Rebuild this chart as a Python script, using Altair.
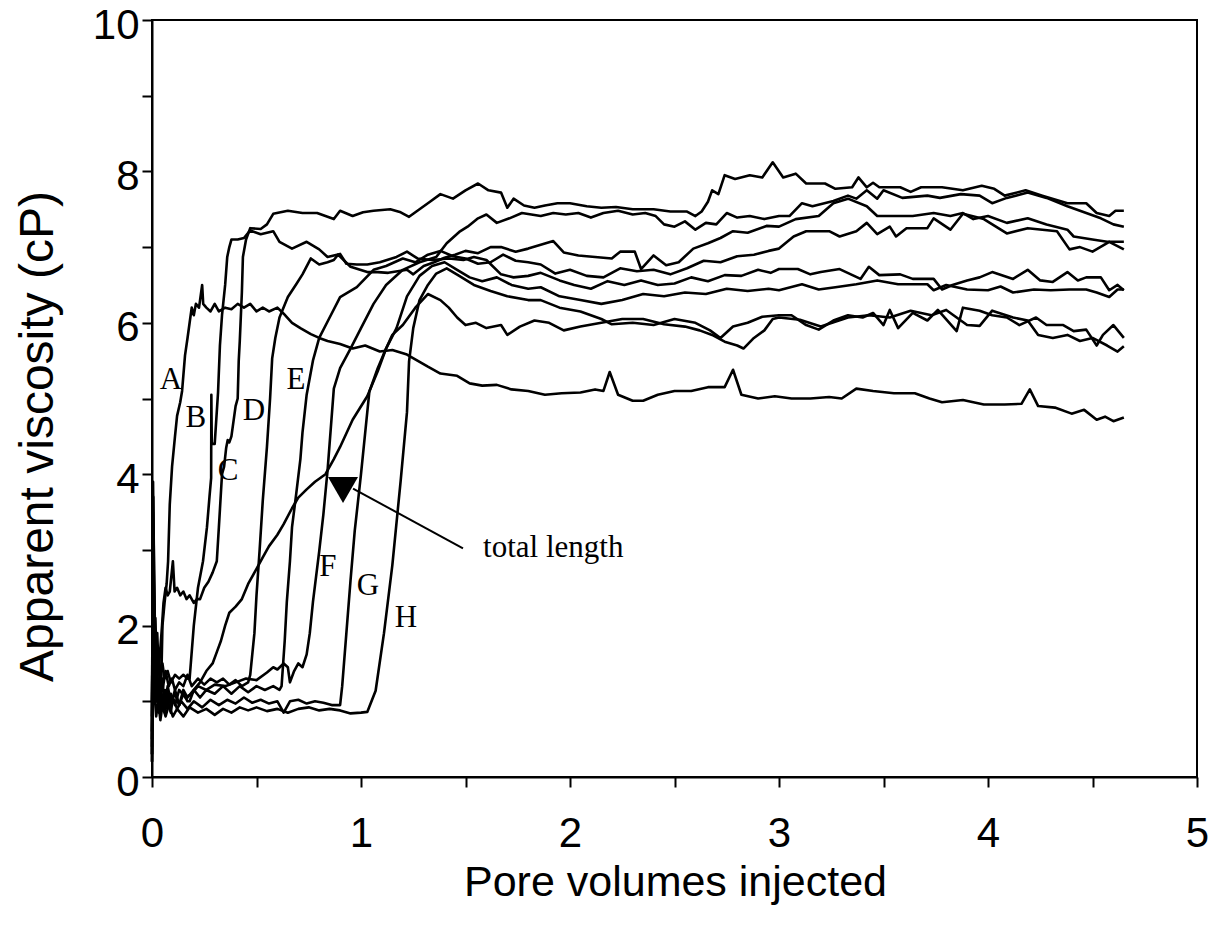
import altair as alt
import pandas as pd

# ---- curves: (pore volumes injected, apparent viscosity cP) ----
A = [(0,0.3),(0.004,3.3),(0.01,2.0),(0.016,1.3),(0.022,1.0),(0.03,1.25),(0.038,0.95),(0.045,1.35),(0.05,2.0),(0.06,2.3),(0.07,2.55),(0.077,2.85),(0.085,3.6),(0.096,4.1),(0.11,4.5),(0.12,4.77),(0.135,4.95),(0.144,5.1),(0.158,5.57),(0.17,5.8),(0.18,6.0),(0.19,6.2),(0.2,6.1),(0.21,6.25),(0.225,6.2),(0.24,6.5),(0.245,6.25),(0.26,6.2),(0.28,6.15),(0.3,6.25),(0.32,6.15),(0.35,6.2),(0.38,6.18),(0.41,6.25),(0.44,6.2),(0.47,6.25),(0.5,6.15),(0.53,6.2),(0.56,6.15),(0.6,6.2),(0.63,6.12),(0.67,6.0),(0.71,5.93),(0.76,5.85),(0.8,5.8),(0.84,5.76),(0.9,5.72),(0.96,5.66),(1.02,5.7),(1.09,5.62),(1.15,5.64),(1.22,5.58),(1.27,5.5),(1.32,5.42),(1.38,5.33),(1.46,5.3),(1.52,5.2),(1.58,5.17),(1.65,5.18),(1.72,5.12),(1.8,5.1),(1.88,5.05),(1.96,5.07),(2.05,5.08),(2.12,5.12),(2.16,5.1),(2.19,5.35),(2.23,5.05),(2.3,4.97),(2.35,4.97),(2.42,5.05),(2.5,5.1),(2.58,5.1),(2.66,5.15),(2.74,5.15),(2.78,5.38),(2.82,5.05),(2.9,5.0),(2.98,5.03),(3.06,5.0),(3.15,5.0),(3.24,5.02),(3.3,5.0),(3.37,5.13),(3.45,5.1),(3.55,5.07),(3.65,5.07),(3.72,5.0),(3.78,4.95),(3.88,4.98),(3.98,4.92),(4.08,4.92),(4.16,4.93),(4.2,5.12),(4.24,4.9),(4.32,4.88),(4.4,4.8),(4.46,4.85),(4.52,4.72),(4.56,4.76),(4.6,4.7),(4.65,4.75)]

B = [(0,0.8),(0.005,2.9),(0.01,1.8),(0.016,2.1),(0.022,1.5),(0.03,1.7),(0.04,1.35),(0.05,1.5),(0.06,1.3),(0.075,1.4),(0.09,1.25),(0.11,1.35),(0.13,1.3),(0.15,1.35),(0.17,1.3),(0.18,1.3),(0.2,2.0),(0.22,2.5),(0.244,2.85),(0.263,3.3),(0.275,3.7),(0.283,3.95),(0.284,5.05),(0.286,4.4),(0.3,4.4),(0.316,5.08),(0.325,5.7),(0.335,6.1),(0.35,6.5),(0.36,6.87),(0.37,7.0),(0.38,7.1),(0.41,7.1),(0.44,7.12),(0.47,7.22),(0.52,7.17),(0.58,7.21),(0.61,7.07),(0.67,6.98),(0.74,7.07),(0.8,6.97),(0.84,6.87),(0.9,6.91),(0.93,6.78),(0.98,6.77),(1.03,6.77),(1.09,6.8),(1.17,6.87),(1.22,6.94),(1.27,6.85),(1.34,6.83),(1.42,6.85),(1.49,6.83),(1.54,6.87),(1.6,6.83),(1.67,6.64),(1.73,6.6),(1.8,6.62),(1.86,6.66),(1.95,6.56),(2.02,6.5),(2.1,6.45),(2.18,6.55),(2.26,6.5),(2.34,6.56),(2.42,6.5),(2.5,6.52),(2.58,6.6),(2.66,6.55),(2.74,6.63),(2.82,6.62),(2.9,6.7),(2.96,6.66),(3.0,6.71),(3.09,6.71),(3.15,6.64),(3.2,6.67),(3.29,6.71),(3.39,6.58),(3.43,6.74),(3.48,6.63),(3.58,6.64),(3.64,6.58),(3.74,6.58),(3.78,6.44),(3.83,6.5),(3.9,6.56),(3.96,6.6),(4.02,6.67),(4.12,6.58),(4.19,6.7),(4.25,6.56),(4.31,6.54),(4.38,6.67),(4.43,6.56),(4.47,6.6),(4.54,6.6),(4.58,6.43),(4.62,6.5),(4.65,6.43)]

C = [(0,1.0),(0.006,3.7),(0.012,2.2),(0.018,1.6),(0.025,1.9),(0.032,1.4),(0.04,1.7),(0.048,2.0),(0.055,2.3),(0.065,2.5),(0.075,2.4),(0.085,2.45),(0.1,2.85),(0.108,2.45),(0.12,2.5),(0.135,2.4),(0.15,2.45),(0.165,2.35),(0.18,2.4),(0.2,2.3),(0.215,2.35),(0.23,2.35),(0.25,2.5),(0.27,2.58),(0.29,2.7),(0.31,2.85),(0.32,3.3),(0.335,4.0),(0.345,4.1),(0.355,4.35),(0.362,4.45),(0.37,4.42),(0.38,4.5),(0.4,4.9),(0.41,5.0),(0.415,5.5),(0.42,5.76),(0.43,6.4),(0.435,6.87),(0.45,7.1),(0.47,7.25),(0.52,7.24),(0.55,7.3),(0.58,7.44),(0.65,7.48),(0.72,7.45),(0.79,7.45),(0.84,7.4),(0.87,7.37),(0.9,7.48),(0.96,7.41),(1.01,7.46),(1.06,7.48),(1.14,7.5),(1.19,7.46),(1.23,7.4),(1.28,7.5),(1.33,7.6),(1.38,7.7),(1.44,7.64),(1.5,7.75),(1.56,7.84),(1.61,7.75),(1.67,7.72),(1.7,7.52),(1.73,7.64),(1.78,7.55),(1.83,7.52),(1.88,7.55),(1.94,7.58),(2.0,7.58),(2.08,7.54),(2.15,7.52),(2.22,7.53),(2.3,7.5),(2.4,7.5),(2.48,7.47),(2.56,7.47),(2.6,7.41),(2.63,7.47),(2.66,7.6),(2.68,7.75),(2.71,7.7),(2.74,7.95),(2.79,7.9),(2.86,7.95),(2.92,7.92),(2.97,8.12),(3.02,7.92),(3.08,7.97),(3.13,7.84),(3.22,7.84),(3.27,7.77),(3.35,7.79),(3.38,7.92),(3.42,7.79),(3.45,7.85),(3.48,7.79),(3.58,7.79),(3.63,7.73),(3.68,7.79),(3.78,7.79),(3.88,7.75),(3.97,7.81),(4.03,7.77),(4.08,7.68),(4.18,7.75),(4.26,7.68),(4.38,7.58),(4.47,7.58),(4.52,7.45),(4.58,7.41),(4.61,7.48),(4.65,7.48)]

D = [(0,0.4),(0.004,2.6),(0.01,1.5),(0.016,1.2),(0.024,1.45),(0.032,1.1),(0.04,1.3),(0.05,1.15),(0.065,1.4),(0.08,1.2),(0.095,1.3),(0.11,1.15),(0.13,1.25),(0.15,1.2),(0.17,1.35),(0.19,1.2),(0.22,1.3),(0.25,1.22),(0.28,1.3),(0.31,1.25),(0.34,1.3),(0.37,1.22),(0.4,1.28),(0.43,1.2),(0.46,1.25),(0.47,1.35),(0.49,1.9),(0.5,2.4),(0.515,3.0),(0.53,3.65),(0.55,4.36),(0.565,5.0),(0.575,5.53),(0.59,5.8),(0.61,6.07),(0.65,6.34),(0.69,6.51),(0.72,6.64),(0.76,6.85),(0.8,6.77),(0.84,6.8),(0.87,6.83),(0.89,6.9),(0.95,6.74),(1.03,6.67),(1.08,6.67),(1.13,6.66),(1.22,6.7),(1.25,6.64),(1.3,6.75),(1.35,6.8),(1.4,6.86),(1.45,6.9),(1.5,6.95),(1.56,6.92),(1.62,7.0),(1.67,7.0),(1.74,6.94),(1.8,6.98),(1.86,7.03),(1.92,7.08),(1.97,6.93),(2.04,6.89),(2.12,6.87),(2.2,6.85),(2.24,6.94),(2.31,6.94),(2.34,6.71),(2.4,6.89),(2.46,6.76),(2.52,6.8),(2.59,6.98),(2.66,7.05),(2.72,7.12),(2.78,7.21),(2.85,7.19),(2.94,7.28),(3.0,7.27),(3.08,7.37),(3.19,7.41),(3.26,7.58),(3.33,7.64),(3.42,7.54),(3.47,7.41),(3.55,7.41),(3.64,7.41),(3.74,7.45),(3.82,7.41),(3.88,7.45),(3.93,7.37),(4.0,7.41),(4.09,7.32),(4.19,7.38),(4.28,7.3),(4.38,7.23),(4.41,7.14),(4.5,7.1),(4.57,7.07),(4.65,7.07)]

E = [(0,0.2),(0.005,2.2),(0.012,1.3),(0.02,1.0),(0.028,1.25),(0.036,0.9),(0.045,1.1),(0.06,0.95),(0.075,1.2),(0.09,1.0),(0.11,1.1),(0.13,0.95),(0.15,1.15),(0.17,1.05),(0.2,1.15),(0.23,1.05),(0.26,1.15),(0.3,1.1),(0.34,1.2),(0.38,1.1),(0.42,1.2),(0.46,1.12),(0.5,1.2),(0.54,1.15),(0.58,1.2),(0.61,1.15),(0.62,1.2),(0.635,1.8),(0.645,2.31),(0.66,2.85),(0.67,3.3),(0.69,3.74),(0.71,4.2),(0.72,4.55),(0.74,5.05),(0.77,5.5),(0.8,5.8),(0.85,6.07),(0.9,6.34),(0.98,6.47),(1.06,6.7),(1.12,6.75),(1.2,6.85),(1.26,6.8),(1.32,6.9),(1.38,6.95),(1.44,6.88),(1.5,6.85),(1.56,6.78),(1.62,6.8),(1.68,6.9),(1.74,6.82),(1.8,6.8),(1.86,6.77),(1.93,6.65),(2.0,6.7),(2.08,6.62),(2.16,6.6),(2.24,6.72),(2.32,6.68),(2.4,6.7),(2.48,6.64),(2.56,6.72),(2.64,6.82),(2.72,6.8),(2.8,6.88),(2.88,6.9),(2.95,6.95),(3.0,6.98),(3.07,7.14),(3.13,7.21),(3.24,7.21),(3.29,7.14),(3.37,7.21),(3.42,7.32),(3.47,7.17),(3.53,7.27),(3.56,7.14),(3.61,7.25),(3.71,7.25),(3.74,7.38),(3.82,7.23),(3.88,7.44),(3.98,7.37),(4.09,7.18),(4.19,7.25),(4.33,7.21),(4.39,6.97),(4.44,7.0),(4.5,6.94),(4.58,7.07),(4.65,6.97)]

F = [(0,0.5),(0.005,3.0),(0.01,1.6),(0.018,1.0),(0.026,1.3),(0.034,0.85),(0.042,1.2),(0.052,0.9),(0.062,1.15),(0.075,0.95),(0.09,1.1),(0.11,0.95),(0.13,1.15),(0.16,1.05),(0.19,1.1),(0.22,1.2),(0.26,1.15),(0.3,1.22),(0.35,1.2),(0.4,1.25),(0.45,1.3),(0.5,1.28),(0.55,1.38),(0.58,1.45),(0.6,1.42),(0.63,1.5),(0.65,1.45),(0.66,1.25),(0.68,1.4),(0.7,1.5),(0.72,1.45),(0.74,1.62),(0.755,1.9),(0.77,2.31),(0.8,2.98),(0.82,3.47),(0.84,4.05),(0.855,4.59),(0.87,5.13),(0.9,5.4),(0.95,5.66),(1.0,5.93),(1.06,6.25),(1.12,6.5),(1.2,6.7),(1.28,6.8),(1.36,6.87),(1.41,7.05),(1.47,7.2),(1.51,7.27),(1.56,7.38),(1.6,7.43),(1.65,7.32),(1.71,7.38),(1.77,7.45),(1.86,7.41),(1.92,7.45),(1.98,7.43),(2.04,7.45),(2.1,7.39),(2.16,7.45),(2.23,7.48),(2.3,7.43),(2.36,7.45),(2.41,7.41),(2.45,7.3),(2.5,7.27),(2.55,7.34),(2.6,7.23),(2.65,7.32),(2.7,7.3),(2.75,7.45),(2.8,7.39),(2.86,7.41),(2.93,7.37),(3.0,7.41),(3.05,7.41),(3.11,7.58),(3.16,7.54),(3.26,7.61),(3.33,7.68),(3.37,7.64),(3.42,7.75),(3.47,7.64),(3.5,7.75),(3.59,7.65),(3.71,7.68),(3.77,7.65),(3.87,7.7),(3.96,7.68),(4.02,7.58),(4.09,7.65),(4.19,7.72),(4.28,7.65),(4.38,7.54),(4.44,7.48),(4.54,7.38),(4.6,7.3),(4.65,7.27)]

G = [(0,0.3),(0.004,3.5),(0.01,2.4),(0.016,1.4),(0.024,1.0),(0.032,1.2),(0.04,0.8),(0.05,1.05),(0.06,0.85),(0.075,1.0),(0.09,0.85),(0.1,1.05),(0.12,0.9),(0.14,1.0),(0.17,0.9),(0.2,1.0),(0.24,0.92),(0.28,1.02),(0.32,0.95),(0.36,1.02),(0.4,0.97),(0.44,1.05),(0.48,0.98),(0.52,1.02),(0.56,0.97),(0.6,1.0),(0.63,0.85),(0.66,1.0),(0.7,1.02),(0.74,0.97),(0.78,1.0),(0.82,0.98),(0.86,0.95),(0.9,0.95),(0.91,1.2),(0.93,1.9),(0.95,2.6),(0.97,3.25),(1.0,4.0),(1.03,4.82),(1.04,5.09),(1.08,5.4),(1.12,5.66),(1.17,5.93),(1.22,6.35),(1.28,6.62),(1.34,6.75),(1.4,6.8),(1.46,6.7),(1.52,6.6),(1.58,6.55),(1.65,6.6),(1.72,6.5),(1.8,6.45),(1.86,6.47),(1.95,6.35),(2.05,6.3),(2.15,6.25),(2.25,6.3),(2.35,6.38),(2.45,6.35),(2.55,6.4),(2.65,6.38),(2.75,6.45),(2.85,6.42),(2.95,6.45),(3.0,6.43),(3.11,6.51),(3.19,6.44),(3.27,6.47),(3.37,6.51),(3.47,6.56),(3.57,6.51),(3.71,6.51),(3.74,6.43),(3.8,6.5),(3.9,6.44),(4.0,6.43),(4.06,6.48),(4.12,6.4),(4.22,6.44),(4.3,6.43),(4.39,6.44),(4.47,6.44),(4.52,6.4),(4.58,6.34),(4.62,6.44),(4.65,6.44)]

H = [(0,0.2),(0.005,2.0),(0.012,1.1),(0.02,0.8),(0.03,1.0),(0.04,0.75),(0.05,0.95),(0.065,0.8),(0.08,0.95),(0.1,0.8),(0.12,0.9),(0.15,0.8),(0.18,0.92),(0.22,0.85),(0.26,0.9),(0.3,0.82),(0.34,0.9),(0.38,0.85),(0.42,0.92),(0.46,0.88),(0.5,0.92),(0.55,0.87),(0.6,0.9),(0.65,0.85),(0.7,0.9),(0.75,0.92),(0.8,0.88),(0.85,0.9),(0.9,0.88),(0.95,0.84),(1.0,0.85),(1.03,0.86),(1.07,1.14),(1.11,1.9),(1.15,2.8),(1.19,3.92),(1.22,4.82),(1.23,5.49),(1.25,5.93),(1.28,6.3),(1.32,6.5),(1.36,6.65),(1.41,6.72),(1.47,6.62),(1.54,6.5),(1.62,6.42),(1.7,6.35),(1.8,6.3),(1.86,6.3),(1.95,6.2),(2.05,6.15),(2.15,6.05),(2.2,5.98),(2.3,6.0),(2.4,5.97),(2.5,6.05),(2.6,6.0),(2.67,5.9),(2.72,5.8),(2.78,5.95),(2.85,6.0),(2.92,6.08),(3.0,6.1),(3.06,6.1),(3.13,5.97),(3.19,5.91),(3.26,6.03),(3.33,6.1),(3.4,6.07),(3.45,6.13),(3.5,5.97),(3.53,6.17),(3.57,5.93),(3.64,6.13),(3.71,6.03),(3.76,6.17),(3.85,5.89),(3.88,6.2),(3.96,6.16),(4.02,6.1),(4.09,6.07),(4.15,5.97),(4.23,6.07),(4.28,5.97),(4.36,5.97),(4.41,5.89),(4.47,5.91),(4.52,5.7),(4.55,5.84),(4.6,5.97),(4.65,5.8)]

TL = [(0,0.6),(0.005,3.9),(0.01,2.6),(0.016,1.7),(0.022,1.4),(0.03,1.6),(0.04,1.1),(0.05,1.3),(0.06,0.9),(0.075,1.1),(0.09,0.95),(0.11,1.15),(0.13,0.95),(0.15,1.1),(0.17,1.0),(0.18,1.0),(0.2,1.15),(0.23,1.25),(0.26,1.4),(0.29,1.5),(0.31,1.65),(0.33,1.8),(0.35,2.0),(0.37,2.17),(0.4,2.25),(0.43,2.35),(0.46,2.55),(0.5,2.75),(0.53,2.9),(0.56,3.05),(0.6,3.2),(0.63,3.34),(0.67,3.55),(0.7,3.69),(0.74,3.8),(0.78,3.9),(0.83,4.0),(0.87,4.2),(0.9,4.36),(0.96,4.72),(1.03,5.03),(1.08,5.36),(1.12,5.66),(1.15,5.84),(1.2,5.97),(1.26,6.2),(1.32,6.38),(1.38,6.3),(1.42,6.2),(1.46,6.07),(1.5,5.97),(1.55,6.0),(1.6,5.93),(1.67,5.97),(1.7,5.84),(1.76,5.95),(1.83,6.03),(1.9,6.0),(1.97,5.9),(2.05,5.95),(2.15,6.0),(2.25,6.05),(2.35,6.05),(2.45,5.98),(2.55,5.95),(2.62,5.9),(2.68,5.84),(2.74,5.75),(2.8,5.7),(2.83,5.66),(2.88,5.8),(2.93,5.9),(2.97,6.05),(3.0,6.07),(3.1,6.04),(3.2,5.95),(3.33,6.07),(3.43,6.1),(3.53,6.07),(3.63,6.16),(3.73,6.1),(3.8,6.17),(3.85,6.07),(3.9,5.97),(3.96,5.96),(4.02,6.16),(4.12,6.07),(4.19,6.03),(4.24,5.84),(4.31,5.8),(4.38,5.84),(4.44,5.76),(4.5,5.8),(4.57,5.7),(4.62,5.62),(4.65,5.69)]

# curve labels (letter, x, y)
label_text = ["A", "B", "C", "D", "E", "F", "G", "H"]
label_x = [0.091, 0.21, 0.364, 0.488, 0.689, 0.842, 1.033, 1.215]
label_y = [5.25, 4.74, 4.04, 4.83, 5.25, 2.77, 2.52, 2.1]

# "total length" marker and annotation
marker_x = [0.914]
marker_y = [3.79]
pointer_x = [0.962]
pointer_y = [3.81]
pointer_x2 = [1.488]
pointer_y2 = [3.02]
note_x = [1.584]
note_y = [3.02]
note_text = ["total length"]

x_ticks = [0, 0.5, 1, 1.5, 2, 2.5, 3, 3.5, 4, 4.5, 5]
y_ticks = [0, 1, 2, 3, 4, 5, 6, 7, 8, 9, 10]

curves = {"A": A, "B": B, "C": C, "D": D, "E": E, "F": F, "G": G, "H": H, "total": TL}
rows = []
for name, pts in curves.items():
    for i, (xv, yv) in enumerate(pts):
        rows.append({"curve": name, "i": i, "pv": xv, "visc": yv})
df = pd.DataFrame(rows)

labels_df = pd.DataFrame({"t": label_text, "pv": label_x, "visc": label_y})
marker_df = pd.DataFrame({"pv": marker_x, "visc": marker_y})
pointer_df = pd.DataFrame({"pv": pointer_x, "visc": pointer_y, "pv2": pointer_x2, "visc2": pointer_y2})
note_df = pd.DataFrame({"pv": note_x, "visc": note_y, "t": note_text})

SANS = "Liberation Sans, Arial, sans-serif"
SERIF = "Liberation Serif, Times New Roman, serif"

xscale = alt.Scale(domain=[0, 5], nice=False, zero=False)
yscale = alt.Scale(domain=[0, 10], nice=False, zero=False)

x_axis = alt.Axis(
    values=x_ticks,
    labelExpr="floor(datum.value) == datum.value ? '' + datum.value : ''",
    labelOverlap=False, labelFlush=False,
    labelFont=SANS, labelFontSize=42, labelColor="black",
    labelBaseline="middle", labelPadding=46,
    tickColor="black", tickWidth=2, tickSize=10,
    domainColor="black", domainWidth=2, grid=False,
    title="Pore volumes injected", titleFont=SANS, titleFontSize=43,
    titleFontWeight="normal", titleColor="black",
    titleX=523, titleY=105, titleBaseline="middle", titleAlign="center",
)
y_axis = alt.Axis(
    values=y_ticks,
    labelExpr="datum.value % 2 == 0 ? '' + datum.value : ''",
    labelOverlap=False, labelFlush=False,
    labelFont=SANS, labelFontSize=42, labelColor="black",
    labelPadding=3, labelOffset=5,
    tickColor="black", tickWidth=2, tickSize=10,
    domainColor="black", domainWidth=2, grid=False,
    title="Apparent viscosity (cP)", titleFont=SANS, titleFontSize=48,
    titleFontWeight="normal", titleColor="black",
    titleX=-114, titleY=416, titleBaseline="middle", titleAlign="center", titleAngle=-90,
)

lines = alt.Chart(df).mark_line(color="black", strokeWidth=2.6, strokeJoin="round").encode(
    x=alt.X("pv:Q", scale=xscale, axis=x_axis),
    y=alt.Y("visc:Q", scale=yscale, axis=y_axis),
    detail="curve:N",
    order="i:Q",
)

letters = alt.Chart(labels_df).mark_text(font=SERIF, fontSize=31, color="black").encode(
    x=alt.X("pv:Q", scale=xscale), y=alt.Y("visc:Q", scale=yscale), text="t:N"
)

marker = alt.Chart(marker_df).mark_point(shape="triangle-down", filled=True, size=900, color="black", opacity=1).encode(
    x=alt.X("pv:Q", scale=xscale), y=alt.Y("visc:Q", scale=yscale)
)

pointer = alt.Chart(pointer_df).mark_rule(color="black", strokeWidth=2).encode(
    x=alt.X("pv:Q", scale=xscale), y=alt.Y("visc:Q", scale=yscale), x2="pv2:Q", y2="visc2:Q"
)

note = alt.Chart(note_df).mark_text(font=SERIF, fontSize=31, color="black", align="left", baseline="middle").encode(
    x=alt.X("pv:Q", scale=xscale), y=alt.Y("visc:Q", scale=yscale), text="t:N"
)

chart = alt.layer(lines, pointer, marker, letters, note).properties(
    width=1045, height=757,
    autosize=alt.AutoSizeParams(type="none"),
    padding={"left": 152, "top": 20, "right": 21, "bottom": 159},
    background="white",
).configure_view(stroke="black", strokeWidth=2)

chart.save("out.html", embed_options={"renderer": "svg", "actions": False})
